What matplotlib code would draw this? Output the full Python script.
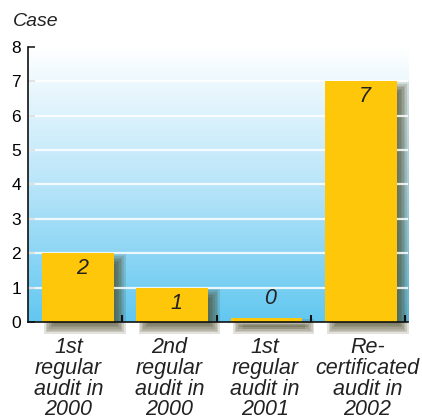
import numpy as np
import matplotlib.pyplot as plt
from matplotlib.colors import LinearSegmentedColormap
from matplotlib.patches import Rectangle

categories = ["1st\nregular\naudit in\n2000",
              "2nd\nregular\naudit in\n2000",
              "1st\nregular\naudit in\n2001",
              "Re-\ncertificated\naudit in\n2002"]
cases = [2, 1, 0, 7]

plt.rcParams['font.family'] = ['Liberation Sans', 'DejaVu Sans']

BAR_COLOR = '#FFC709'
SHADOW_COLOR = '#4b4a28'

fig = plt.figure(figsize=(4.22, 4.19), dpi=100)
ax = fig.add_axes([0.066, 0.2315, 0.901, 0.657])

xmin, xmax = -0.5, 3.53
ax.set_xlim(xmin, xmax)
ax.set_ylim(0, 8)

# background: white at the top fading into sky blue at the bottom
grad = np.linspace(0, 1, 256).reshape(-1, 1)
cmap = LinearSegmentedColormap.from_list('sky', ['#ffffff', '#b9e5f9', '#62c7f0'])
ax.imshow(grad, cmap=cmap, extent=[xmin, xmax, 0, 8], aspect='auto', zorder=0, origin='upper')
ax.set_ylim(0, 8)

x = np.arange(len(cases))
vals = np.array(cases, dtype=float)
heights = np.maximum(vals, 0.12)  # keep a sliver visible for zero counts
width = 0.76
offset = 0.03

# soft drop shadow, built from stacked translucent rectangles
px_x = 1 / 94.2
px_y = 1 / 34.4
for xi, h in zip(x, heights):
    left = xi + offset - width / 2 + 7 * px_x
    bottom = -7 * px_y
    top = h - 6 * px_y
    for k in range(7):
        g = (k - 3) * 1.6
        ax.add_patch(Rectangle((left - g * px_x, bottom - g * px_y),
                               width + 2 * g * px_x, (top - bottom) + 2 * g * px_y,
                               facecolor=SHADOW_COLOR, edgecolor='none', alpha=0.16,
                               zorder=1, clip_on=False))

for yv in range(1, 8):
    ax.axhline(yv, color='white', lw=1.6, alpha=0.85, zorder=2)

ax.bar(x + offset, heights, width=width, color=BAR_COLOR, zorder=3)

label_y = np.where(vals > 0, vals - 0.45, 0.67)
for xi, v, ly in zip(x, cases, label_y):
    ax.text(xi + 0.07, ly, str(v), ha='center', va='center', fontsize=15.5,
            style='italic', color='#222222', zorder=4)

# category names under the axis
nudge = [-0.07, 0.0, 0.01, 0.1]
for xi, name, dxn in zip(x, categories, nudge):
    ax.annotate(name, xy=(xi + dxn, 0), xytext=(0, -11), textcoords='offset points',
                ha='center', va='top', fontsize=15.5, style='italic',
                linespacing=0.98, color='#222222', annotation_clip=False)

for s in ['top', 'right']:
    ax.spines[s].set_visible(False)
for s in ['left', 'bottom']:
    ax.spines[s].set_linewidth(1.2)
    ax.spines[s].set_color('#111111')
    ax.spines[s].set_zorder(5)

ax.set_yticks(range(0, 9))
ax.tick_params(axis='y', direction='in', length=5, width=1.2, labelsize=12.5,
               pad=5, color='#222222')
ax.set_xticks([0.5, 1.5, 2.5, 3.5])
ax.set_xticklabels([])
ax.tick_params(axis='x', direction='in', length=5, width=1.5, color='#111111')

fig.text(13 / 422, 1 - 26 / 419, 'Case', fontsize=14, style='italic',
         va='baseline', ha='left', color='#222222')

fig.savefig('out.png', dpi=100)
